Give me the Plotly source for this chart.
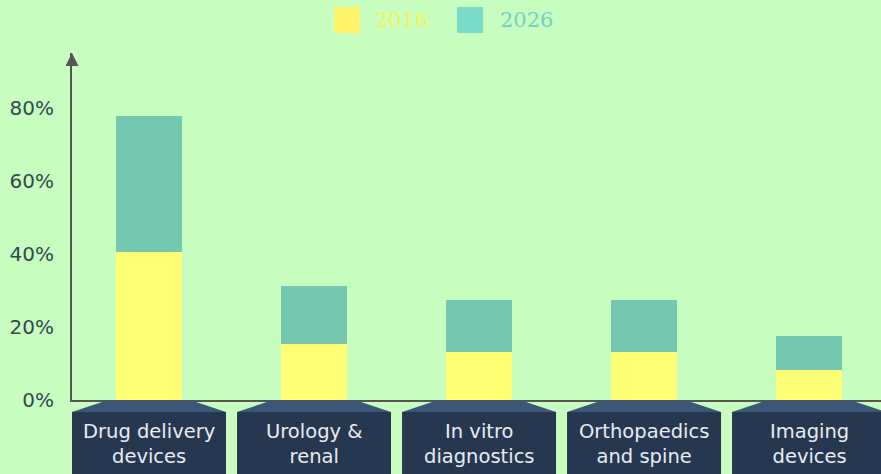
import plotly.graph_objects as go

categories = ["Drug delivery<br>devices", "Urology &<br>renal", "In vitro<br>diagnostics",
              "Orthopaedics<br>and spine", "Imaging<br>devices"]
series_names = ["2016", "2026"]
values_2016 = [40.4, 15.2, 13.2, 13.2, 8.2]
values_2026 = [37.4, 15.9, 14.3, 14.3, 9.2]
y_tickvals = [0, 20, 40, 60, 80]
y_ticktext = ["0%", "20%", "40%", "60%", "80%"]

W, H = 881, 474
ML, MR, MT, MB = 72, 0, 53, 74
PW, PH = W - ML - MR, H - MT - MB
XMIN, XMAX = -0.4667, 4.436
YMAX = 95


def px_x(px):
    return (px - ML) / PW


def px_y(py):
    return (H - MB - py) / PH


def ux(u):
    return (u - XMIN) / (XMAX - XMIN)


UNIT = PW / (XMAX - XMIN)

BG = "#c8fdc0"
YELLOW = "#ffff75"
TEAL = "#75c8b0"
AXIS = "#555555"

fig = go.Figure()
xs = list(range(len(categories)))
fig.add_trace(go.Bar(x=xs, y=values_2016, name=series_names[0], marker_color=YELLOW,
                     marker_line_width=0, width=0.4, showlegend=False))
fig.add_trace(go.Bar(x=xs, y=values_2026, name=series_names[1], marker_color=TEAL,
                     marker_line_width=0, width=0.4, showlegend=False))

shapes = []
annotations = []
box_half = 77 / UNIT
tab_half = 44 / UNIT
y_top, y_mid, y_bot = px_y(401), px_y(412), px_y(476)
for i, cat in enumerate(categories):
    l, r = ux(i - box_half), ux(i + box_half)
    tl, tr = ux(i - tab_half), ux(i + tab_half)
    shapes.append(dict(type="path", xref="paper", yref="paper",
                       path=f"M{tl},{y_top} L{tr},{y_top} L{r},{y_mid} L{l},{y_mid} Z",
                       fillcolor="#3b5676", line_width=0, layer="above"))
    shapes.append(dict(type="rect", xref="paper", yref="paper", x0=l, x1=r, y0=y_bot, y1=y_mid,
                       fillcolor="#263850", line_width=0, layer="above"))
    annotations.append(dict(x=ux(i), y=px_y(444), xref="paper", yref="paper", text=cat,
                            showarrow=False, xanchor="center", yanchor="middle",
                            font=dict(family="DejaVu Sans", size=19.5, color="#e6ecf2")))

# y axis arrowhead
annotations.append(dict(x=0, y=px_y(53), xref="paper", yref="paper", ax=0, ay=14,
                        axref="pixel", ayref="pixel", text="", showarrow=True,
                        arrowhead=2, arrowsize=1.3, arrowwidth=2, arrowcolor=AXIS))

# legend drawn manually
legend_items = [(series_names[0], "#fff46a", "#f6f356", 334, 373),
                (series_names[1], "#7adcc8", "#72d2bf", 457, 498)]
for name, sw, tc, sx, tx in legend_items:
    shapes.append(dict(type="rect", xref="paper", yref="paper", x0=px_x(sx), x1=px_x(sx + 26),
                       y0=px_y(33), y1=px_y(7), fillcolor=sw, line_width=0))
    annotations.append(dict(x=px_x(tx), y=px_y(20), xref="paper", yref="paper", text=name,
                            showarrow=False, xanchor="left", yanchor="middle",
                            font=dict(family="DejaVu Serif", size=21, color=tc)))

fig.update_layout(
    width=W, height=H,
    margin=dict(l=ML, r=MR, t=MT, b=MB, autoexpand=False),
    paper_bgcolor=BG, plot_bgcolor=BG,
    barmode="stack",
    showlegend=False,
    shapes=shapes, annotations=annotations,
    xaxis=dict(range=[XMIN, XMAX], showgrid=False, zeroline=False, showticklabels=False,
               showline=True, linecolor=AXIS, linewidth=2, ticks=""),
    yaxis=dict(range=[0, YMAX], tickmode="array", tickvals=y_tickvals, ticktext=y_ticktext,
               showgrid=False, zeroline=False, showline=True, linecolor=AXIS, linewidth=2,
               ticks="", ticklabelstandoff=12,
               tickfont=dict(family="DejaVu Sans", size=20, color="#2f4a4e")),
)

fig.write_html("out.html", config={"displayModeBar": False},
               post_script="document.body.style.margin='0';")
